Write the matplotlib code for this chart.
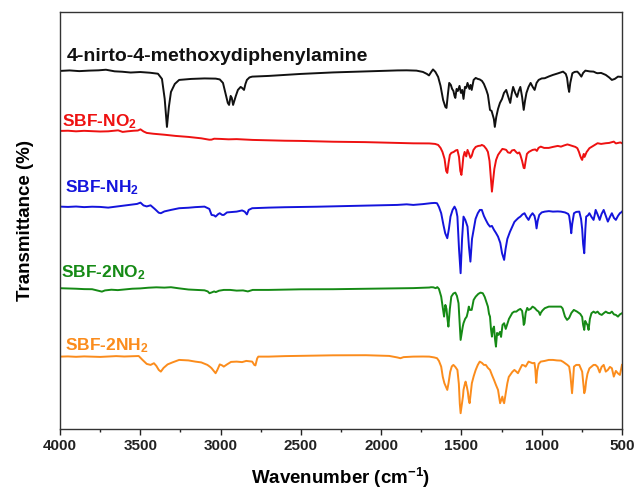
import numpy as np
import matplotlib
matplotlib.use('Agg')
import matplotlib.pyplot as plt
from matplotlib.ticker import MultipleLocator

plt.rcParams['font.family'] = ['Liberation Sans', 'DejaVu Sans']
plt.rcParams['font.weight'] = 'bold'
plt.rcParams['mathtext.fontset'] = 'custom'
plt.rcParams['mathtext.rm'] = 'Liberation Sans:bold'
plt.rcParams['mathtext.bf'] = 'Liberation Sans:bold'
plt.rcParams['mathtext.default'] = 'bf'

# FTIR spectra, stacked (arbitrary transmittance units), (wavenumber, value) pairs
black_pts = [
    (4000, 358), (3940, 358.5), (3880, 357.8), (3820, 358.3), (3760, 358.6), (3714, 359.2),
    (3660, 357.6), (3613, 357.2), (3560, 356.4), (3500, 356.9), (3440, 356.2), (3390, 355.2),
    (3365, 350), (3348, 330), (3334, 302), (3322, 322), (3309, 337), (3285, 345), (3258, 349),
    (3220, 349.5), (3183, 350), (3100, 350.5), (3030, 350.3), (3005, 349.5), (2985, 346),
    (2967, 334), (2955, 326), (2947, 324), (2937, 333), (2930, 331), (2922, 324), (2905, 333),
    (2892, 339), (2875, 342), (2866, 341), (2854, 339), (2845, 345), (2836, 349), (2820, 351.5),
    (2803, 352.3), (2700, 353), (2600, 354), (2500, 355), (2400, 355.8), (2300, 356.5),
    (2200, 357), (2100, 357.5), (2000, 358), (1900, 358.5), (1841, 358.6), (1780, 358.3),
    (1740, 357), (1715, 355), (1702, 353.5), (1688, 357), (1677, 359.5), (1662, 357),
    (1645, 352), (1630, 343), (1614, 329), (1600, 322), (1593, 321), (1584, 335), (1576, 346),
    (1566, 344), (1558, 340), (1550, 338), (1543, 333), (1538, 331), (1530, 340), (1522, 338),
    (1512, 343), (1503, 336), (1495, 339), (1487, 330), (1478, 342), (1470, 341), (1462, 346),
    (1450, 340), (1443, 344), (1436, 339), (1424, 349), (1411, 351), (1398, 350), (1386, 349.5),
    (1372, 348), (1360, 345), (1345, 339), (1335, 334), (1322, 319), (1312, 318), (1305, 314),
    (1298, 310), (1292, 302), (1283, 312), (1272, 320), (1260, 326), (1247, 330), (1235, 336),
    (1221, 339), (1210, 333), (1196, 326), (1187, 335), (1178, 342), (1165, 336), (1153, 332),
    (1143, 338), (1133, 342), (1122, 332), (1112, 319), (1104, 328), (1095, 336), (1082, 342),
    (1069, 346), (1056, 342), (1044, 339), (1032, 346), (1019, 349), (1000, 350.5), (981, 350.7),
    (955, 352.5), (930, 354), (900, 355.5), (867, 357.3), (850, 355), (842, 351), (835, 342),
    (829, 337), (822, 346), (809, 355.7), (795, 357), (778, 357.3), (765, 355), (753, 352.3),
    (742, 356), (728, 358.3), (700, 357.5), (677, 357.3), (660, 356), (652, 355.7), (630, 356),
    (601, 354), (580, 351.5), (563, 349), (545, 350), (525, 352.3), (500, 352),
]

red_pts = [
    (4000, 298), (3950, 298.2), (3900, 297.6), (3850, 298.1), (3800, 297.8), (3750, 297.4),
    (3700, 297.6), (3660, 298.3), (3638, 298.6), (3610, 297), (3580, 297.6), (3540, 298.2),
    (3515, 298.4), (3499, 299.6), (3480, 297.5), (3460, 296), (3420, 295.2), (3350, 294.2),
    (3280, 293), (3200, 292), (3120, 290.6), (3070, 289.2), (3056, 289.3), (3040, 290.2),
    (3000, 290), (2950, 289.6), (2900, 289.8), (2800, 289), (2700, 288.6), (2600, 288.2),
    (2500, 288), (2400, 287.6), (2300, 287.2), (2200, 287), (2100, 286.8), (2000, 286.4),
    (1900, 286), (1800, 285.6), (1700, 285.5), (1664, 285), (1645, 284), (1630, 281),
    (1618, 277), (1605, 270), (1595, 258), (1588, 256), (1580, 266), (1572, 274), (1563, 276),
    (1548, 277), (1535, 278.5), (1525, 279), (1515, 272), (1507, 258), (1500, 254), (1494, 262),
    (1488, 272), (1480, 277), (1470, 272.5), (1462, 279), (1452, 275), (1444, 271), (1436, 273),
    (1425, 279), (1411, 282), (1395, 283), (1380, 283.3), (1373, 284), (1360, 283), (1345, 280),
    (1335, 277), (1325, 268), (1316, 250), (1310, 237.3), (1303, 248), (1295, 260), (1284, 269),
    (1272, 274), (1259, 277), (1245, 280), (1230, 279.5), (1221, 279), (1210, 276.5),
    (1196, 276), (1185, 278.5), (1171, 279), (1160, 277), (1150, 275.5), (1140, 276.5),
    (1133, 274), (1122, 268), (1112, 261), (1107, 260.7), (1100, 268), (1092, 275), (1080, 277),
    (1057, 279), (1040, 279.5), (1030, 278), (1020, 281), (1006, 282.3), (985, 281), (956, 281),
    (930, 282), (900, 283), (880, 282.3), (860, 283.5), (840, 284.5), (829, 284), (810, 283),
    (790, 282), (778, 280.7), (768, 277), (760, 273), (752, 270), (748, 269), (742, 273),
    (738, 275), (733, 272), (728, 274), (720, 277), (715, 278), (703, 280.7), (690, 282),
    (670, 284), (652, 285.7), (630, 285), (601, 285.7), (580, 286), (551, 287.3), (538, 285.5),
    (525, 286), (510, 286.5), (500, 285.7),
]

blue_pts = [
    (4000, 222.3), (3950, 222), (3900, 222.4), (3850, 221.8), (3800, 222.2), (3750, 222),
    (3700, 221.3), (3650, 222.3), (3600, 223.2), (3550, 224.4), (3520, 225), (3499, 226.3),
    (3480, 223.5), (3460, 222.5), (3436, 223.6), (3410, 220), (3385, 216.2), (3372, 215.7),
    (3350, 217.5), (3309, 219), (3258, 220.7), (3200, 221.2), (3157, 221.8), (3100, 222.3),
    (3070, 220), (3056, 214), (3040, 213.5), (3031, 212.3), (3015, 214.8), (3005, 215.7),
    (2990, 214), (2980, 214), (2960, 216.5), (2935, 216.8), (2900, 217.3), (2866, 218.5),
    (2850, 217.3), (2836, 214.5), (2825, 219), (2803, 220.7), (2700, 221.3), (2600, 221.7),
    (2500, 221.9), (2400, 222.2), (2300, 222.6), (2200, 223), (2100, 223.3), (2000, 223.6),
    (1900, 224), (1841, 224.6), (1800, 224), (1740, 224.8), (1700, 225.5), (1687, 225.8),
    (1665, 226), (1652, 225.7), (1640, 222), (1626, 215.7), (1612, 204), (1601, 195.7),
    (1588, 190.7), (1578, 200), (1568, 212.3), (1555, 219), (1543, 222.3), (1533, 219),
    (1525, 212.3), (1515, 180), (1505, 155.7), (1496, 190), (1487, 212.3), (1476, 209),
    (1470, 206), (1462, 202.3), (1453, 182), (1444, 167.3), (1434, 190), (1424, 199),
    (1412, 210), (1398, 215.7), (1385, 219), (1373, 219), (1360, 213), (1348, 209), (1335, 205),
    (1322, 202.3), (1310, 203), (1297, 199), (1285, 196), (1272, 192.3), (1258, 186),
    (1247, 175.7), (1234, 169), (1225, 180), (1214, 190), (1198, 197), (1183, 202.3),
    (1170, 207), (1158, 209), (1145, 211), (1133, 212.3), (1120, 214.5), (1107, 215.7),
    (1095, 212), (1082, 209), (1070, 213), (1057, 215.7), (1045, 213), (1038, 208),
    (1032, 200.5), (1025, 208), (1015, 214), (1000, 216.5), (981, 217.3), (955, 217.8),
    (930, 217.3), (900, 217.5), (880, 217.3), (855, 216.5), (835, 215), (829, 213), (822, 205),
    (816, 195.7), (810, 205), (799, 215.7), (785, 217), (766, 217.3), (755, 210), (748, 200),
    (742, 185), (735, 175.7), (728, 200), (723, 212.3), (712, 213.5), (703, 215.7), (690, 212),
    (677, 209), (670, 214), (664, 219), (652, 214.5), (639, 209), (627, 215), (614, 219),
    (601, 213), (588, 207.3), (575, 212), (563, 215.7), (550, 211), (538, 209), (525, 213),
    (513, 215.7), (505, 216.5), (500, 217.3),
]

green_pts = [
    (4000, 140.7), (3950, 140.5), (3900, 140.2), (3850, 139.8), (3800, 139.7), (3760, 138.2),
    (3739, 137.3), (3720, 138.5), (3680, 139.2), (3640, 138.8), (3600, 139.4), (3550, 140.2),
    (3500, 140.5), (3450, 141.2), (3400, 141.6), (3350, 141.3), (3309, 141.7), (3260, 140.6),
    (3200, 139.4), (3150, 139), (3100, 138.6), (3080, 137.5), (3069, 135.7), (3055, 136.5),
    (3040, 137.5), (3030, 136.8), (3010, 138.2), (2980, 139), (2940, 139), (2900, 138.3),
    (2860, 138.5), (2830, 137.5), (2800, 139), (2700, 139), (2600, 139.3), (2500, 139.6),
    (2400, 139.6), (2300, 139.7), (2200, 139.9), (2100, 140), (2000, 140.2), (1900, 140.4),
    (1800, 140.8), (1700, 141.4), (1689, 141.7), (1675, 141.6), (1660, 140.7), (1650, 141.8),
    (1640, 140), (1626, 132.3), (1617, 122), (1608, 112.3), (1600, 124), (1593, 120),
    (1587, 110), (1581, 102.3), (1572, 120), (1563, 132.3), (1550, 135.4), (1538, 136.3),
    (1528, 133), (1518, 125.7), (1511, 105), (1505, 89), (1498, 96), (1492, 102), (1487, 105.7),
    (1477, 110), (1467, 112.3), (1460, 117), (1454, 122.3), (1447, 119), (1436, 119),
    (1424, 129), (1411, 132.3), (1395, 135), (1381, 136.3), (1367, 135.7), (1355, 132),
    (1345, 127), (1335, 122.3), (1328, 115), (1322, 112.3), (1316, 100), (1310, 92.3),
    (1304, 100), (1297, 102.3), (1291, 90), (1285, 82.3), (1278, 96), (1270, 94), (1260, 97),
    (1253, 92), (1244, 104), (1234, 105.7), (1224, 100), (1214, 105), (1204, 110), (1196, 112.3),
    (1183, 116), (1171, 117.3), (1158, 117.3), (1145, 119), (1133, 120), (1122, 118),
    (1115, 110), (1112, 104), (1107, 105.7), (1100, 116), (1090, 121), (1082, 119), (1069, 120),
    (1057, 122.3), (1044, 121), (1030, 118.5), (1019, 117.3), (1010, 114), (1006, 116),
    (995, 118.5), (981, 120.7), (956, 122.3), (930, 122.3), (900, 122.3), (880, 122.3),
    (870, 120.5), (855, 112.3), (842, 109), (829, 111), (815, 116), (800, 119), (780, 117.3),
    (760, 115), (748, 112), (742, 104), (735, 99), (729, 108), (723, 106), (715, 104), (708, 99),
    (700, 110), (690, 115.7), (677, 117.3), (665, 116), (652, 117.3), (640, 115), (626, 114),
    (614, 115.7), (601, 117.3), (588, 116), (575, 115.7), (563, 117.3), (550, 114.5),
    (538, 114), (525, 112.3), (513, 114.5), (500, 115.7),
]

orange_pts = [
    (4000, 72.3), (3950, 72.5), (3900, 72.1), (3850, 72.5), (3800, 72.3), (3750, 72),
    (3700, 72.4), (3650, 72.8), (3600, 72.4), (3550, 72.7), (3510, 72.9), (3486, 69),
    (3460, 65), (3436, 64), (3415, 65.7), (3400, 63), (3385, 59), (3372, 57.3), (3355, 61),
    (3330, 64.5), (3300, 66.5), (3258, 69), (3200, 68.5), (3157, 67.3), (3120, 66.5),
    (3082, 64), (3065, 62), (3056, 60.7), (3040, 57.5), (3031, 55.7), (3020, 59), (3005, 64.5),
    (2990, 63.5), (2980, 62.3), (2960, 64.5), (2935, 67), (2900, 67.3), (2866, 66.8),
    (2840, 68), (2815, 67.5), (2803, 67.3), (2790, 64), (2783, 63.5), (2772, 70.5),
    (2765, 72.3), (2700, 72.3), (2600, 72.8), (2500, 73.1), (2400, 73.4), (2300, 73.6),
    (2200, 73.7), (2094, 73.7), (2000, 73.2), (1950, 73), (1900, 71.5), (1880, 70.7),
    (1860, 71.8), (1800, 72.3), (1740, 72.4), (1700, 72.3), (1670, 71.5), (1652, 70.7),
    (1640, 68), (1626, 62.3), (1616, 52), (1606, 45.7), (1596, 42), (1588, 39), (1580, 46),
    (1570, 57), (1560, 62.5), (1550, 64), (1538, 62), (1525, 59), (1516, 45), (1510, 25),
    (1505, 15.7), (1497, 25), (1490, 33), (1487, 39), (1480, 44), (1474, 47.3), (1466, 42),
    (1460, 37), (1455, 30), (1449, 25.7), (1442, 36), (1435, 45.7), (1423, 53), (1411, 59),
    (1398, 64), (1386, 67.3), (1372, 66), (1360, 64), (1348, 64), (1335, 61), (1322, 59),
    (1310, 54), (1297, 49), (1285, 44), (1272, 39), (1265, 32), (1259, 25.7), (1250, 30),
    (1245, 32.3), (1240, 28), (1234, 25.7), (1225, 35), (1214, 45.7), (1205, 52), (1196, 54),
    (1183, 57), (1170, 59), (1158, 57.3), (1148, 55.7), (1135, 60), (1122, 64), (1110, 63.5),
    (1100, 62.3), (1090, 65), (1082, 67.3), (1070, 66.5), (1057, 65.7), (1045, 66), (1040, 60),
    (1034, 46), (1028, 58), (1019, 65), (1006, 67.3), (981, 68), (956, 69), (930, 69),
    (905, 68.5), (880, 68.3), (866, 67), (855, 65.7), (840, 64), (829, 62.3), (822, 55),
    (815, 42), (811, 35.7), (805, 48), (799, 62.3), (785, 64), (766, 64), (755, 60),
    (748, 57.3), (742, 47), (735, 35.7), (729, 39), (723, 48), (715, 55), (703, 60.5),
    (690, 62.3), (677, 64), (665, 64), (652, 62), (639, 56.5), (627, 62), (614, 64),
    (601, 57.3), (588, 59), (575, 62), (563, 60.7), (551, 52.3), (538, 58), (525, 55.5),
    (513, 54), (505, 60), (500, 64),
]

names = ['4-nirto-4-methoxydiphenylamine', 'SBF-NO$_2$', 'SBF-NH$_2$', 'SBF-2NO$_2$', 'SBF-2NH$_2$']
colors = ['#111111', '#ee1111', '#1414dc', '#158a15', '#fb8c1c']
label_xy = [(3960, 368), (3985, 303), (3968, 237), (3992, 152), (3968, 79)]
label_size = [14, 12.5, 12.5, 12.5, 12.5]

fig = plt.figure(figsize=(6.35, 4.97), dpi=100)
ax = fig.add_axes([0.0945, 0.137, 0.885, 0.839])

series = [black_pts, red_pts, blue_pts, green_pts, orange_pts]
# orange first so the green drop line stays visible down the left edge
for i in [4, 0, 1, 2, 3]:
    pts = np.array(series[i])
    wn, t = pts[:, 0], pts[:, 1]
    ax.plot(np.r_[wn[0], wn], np.r_[0, t], color=colors[i], lw=1.4)

for name, c, (x, y), fs in zip(names, colors, label_xy, label_size):
    ax.text(x, y, name, color=c, fontsize=fs, fontweight='bold', ha='left', va='baseline')

ax.set_xlim(4000, 500)
ax.set_ylim(0, 417)
ax.set_yticks([])
ax.xaxis.set_major_locator(MultipleLocator(500))
ax.xaxis.set_minor_locator(MultipleLocator(250))
ax.tick_params(axis='x', which='major', direction='out', length=4, width=1, labelsize=11, colors='#222222')
ax.tick_params(axis='x', which='minor', direction='out', length=2.5, width=1, colors='#222222')
for lab in ax.get_xticklabels():
    lab.set_fontweight('bold')
for s in ax.spines.values():
    s.set_color('#333333')
    s.set_linewidth(1)

ax.set_xlabel('Wavenumber (cm$^{-1}$)', fontsize=13.5, fontweight='bold', labelpad=9)
ax.set_ylabel('Transmittance (%)', fontsize=13.5, fontweight='bold', labelpad=19)

fig.savefig('out.png', dpi=100)
